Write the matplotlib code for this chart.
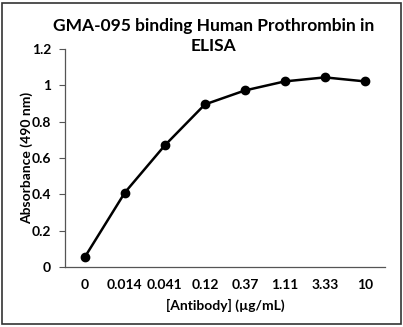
import numpy as np
import matplotlib
matplotlib.use('Agg')
import matplotlib.pyplot as plt
from matplotlib.patches import Rectangle

concentrations = ["0", "0.014", "0.041", "0.12", "0.37", "1.11", "3.33", "10"]
absorbance = [0.055, 0.41, 0.67, 0.895, 0.972, 1.022, 1.044, 1.022]
y_ticks = [0, 0.2, 0.4, 0.6, 0.8, 1, 1.2]
y_tick_labels = ["0", "0.2", "0.4", "0.6", "0.8", "1", "1.2"]

plt.rcParams['font.family'] = ['Lato', 'DejaVu Sans']

fig = plt.figure(figsize=(4.03, 3.27), dpi=100)
ax = fig.add_axes([0.161, 0.1835, 0.794, 0.6665])

x = np.arange(len(concentrations))
ax.plot(x, absorbance, color='black', linewidth=1.8, marker='o', markersize=6)

ax.set_xlim(-0.5, len(concentrations) - 0.5)
ax.set_ylim(0, 1.2)
ax.set_xticks(x)
ax.set_xticklabels(concentrations, fontsize=10, fontweight='bold')
ax.set_yticks(y_ticks)
ax.set_yticklabels(y_tick_labels, fontsize=10, fontweight='bold')
ax.tick_params(axis='x', length=0, pad=9)
ax.tick_params(axis='y', length=4, width=0.8, color='#555555', pad=6)

for side in ['top', 'right']:
    ax.spines[side].set_visible(False)
for side in ['left', 'bottom']:
    ax.spines[side].set_color('#555555')
    ax.spines[side].set_linewidth(0.9)

ax.set_xlabel('[Antibody] (µg/mL)', fontsize=10, fontweight='bold', labelpad=5)
ax.set_ylabel('Absorbance (490 nm)', fontsize=10, fontweight='bold')
ax.yaxis.set_label_coords(-0.10, 0.5)
fig.text(0.531, 0.89, 'GMA-095 binding Human Prothrombin in\nELISA', fontsize=12.5,
         fontweight='bold', ha='center', va='center', linespacing=1.25)

fig.patches.append(Rectangle((0.006, 0.009), 0.988, 0.982, transform=fig.transFigure,
                             fill=False, edgecolor='#333333', linewidth=1.2))

plt.savefig('out.png', dpi=100)
